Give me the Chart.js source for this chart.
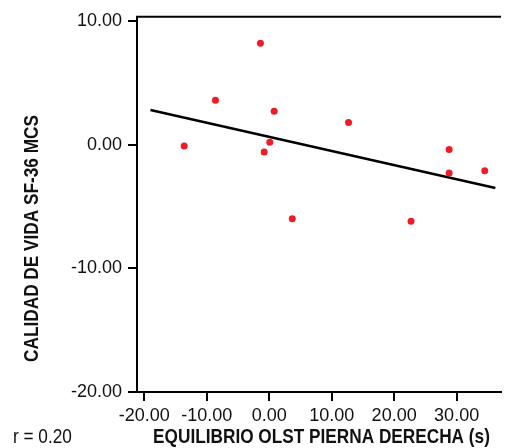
<!DOCTYPE html>
<html>
<head>
<meta charset="utf-8">
<script src="https://cdn.jsdelivr.net/npm/chart.js@4/dist/chart.umd.min.js"></script>
<style>
    html, body { margin: 0; padding: 0; background: #fff; }
</style>
</head>
<body>
<canvas id="chartCanvas" width="505" height="448"></canvas>
<script>
// Values
const equilibrio = [-1.4, -8.6, 0.8, 12.7, -13.6, 0.1, -0.8, 28.8, 28.8, 34.5, 3.7, 22.7];
const calidad    = [8.2, 3.6, 2.7, 1.8, -0.1, 0.2, -0.6, -0.4, -2.3, -2.1, -6.0, -6.2];

// Fitted line, as drawn in the reference
const fitX = [-19.0, 36.2];
const fitY = [2.8, -3.5];

const xTicks = [-20, -10, 0, 10, 20, 30];
const yTicks = [-20, -10, 0, 10];

const xTitle = 'EQUILIBRIO OLST PIERNA DERECHA (s)';
const yTitle = 'CALIDAD DE VIDA SF-36 MCS';
const rLabel = 'r = 0.20';

// Check whether a narrow font is installed
function hasFont(name) {
    const c = document.createElement('canvas').getContext('2d');
    const s = 'EQUILIBRIO 10.00';
    c.font = '40px monospace';
    const a = c.measureText(s).width;
    c.font = `40px "${name}", monospace`;
    const b = c.measureText(s).width;
    return a !== b;
}

const narrow = hasFont('Liberation Sans Narrow');
const family = narrow ? '"Liberation Sans Narrow", "Liberation Sans", Arial, sans-serif' : '"Liberation Sans", Arial, sans-serif';
const tickSize = narrow ? 21 : 18;
const squeeze = narrow ? 1 : 0.82;
const textColor = '#111';

// Plugin for the top border, axis titles and r label
const extrasPlugin = {
    id: 'extras',
    afterDraw(chart) {
        const ctx = chart.ctx;
        const area = chart.chartArea;
        ctx.save();
        ctx.strokeStyle = '#000';
        ctx.lineWidth = 2;
        ctx.beginPath();
        ctx.moveTo(area.left - 1, area.top);
        ctx.lineTo(area.right, area.top);
        ctx.stroke();

        ctx.fillStyle = textColor;
        ctx.textBaseline = 'middle';
        ctx.textAlign = 'center';

        // x title
        ctx.save();
        ctx.translate(321.5, 437);
        ctx.scale(squeeze, 1);
        ctx.font = `bold 21px ${family}`;
        ctx.fillText(xTitle, 0, 0);
        ctx.restore();

        // y title
        ctx.save();
        ctx.translate(32, 238.5);
        ctx.rotate(-Math.PI / 2);
        ctx.scale(squeeze, 1);
        ctx.font = `bold 21px ${family}`;
        ctx.fillText(yTitle, 0, 0);
        ctx.restore();

        // r label
        ctx.save();
        ctx.translate(13, 437);
        ctx.scale(squeeze, 1);
        ctx.textAlign = 'left';
        ctx.font = `21px ${family}`;
        ctx.fillText(rLabel, 0, 0);
        ctx.restore();

        ctx.restore();
    }
};

function buildChart() {
    try {
        const ctx = document.getElementById('chartCanvas').getContext('2d');

        const points = equilibrio.map((v, i) => ({ x: v, y: calidad[i] }));
        const fitLine = fitX.map((v, i) => ({ x: v, y: fitY[i] }));

        const axisCommon = {
            type: 'linear',
            border: { display: true, color: '#000', width: 2 },
            grid: { drawOnChartArea: false, drawTicks: true, tickLength: 9, color: '#000', lineWidth: 2 },
            ticks: {
                color: textColor,
                font: { family: family, size: tickSize },
                callback: (v) => Number(v).toFixed(2)
            }
        };

        new Chart(ctx, {
            type: 'scatter',
            data: {
                datasets: [
                    {
                        label: 'MCS',
                        data: points,
                        backgroundColor: '#ee1c24',
                        borderWidth: 0,
                        pointRadius: 3.5
                    },
                    {
                        type: 'line',
                        label: 'Ajuste',
                        data: fitLine,
                        borderColor: '#000',
                        borderWidth: 2.5,
                        pointRadius: 0,
                        fill: false
                    }
                ]
            },
            options: {
                responsive: false,
                animation: false,
                layout: { padding: { top: 14, right: 0, left: 0, bottom: 0 } },
                plugins: { legend: { display: false }, tooltip: { enabled: false } },
                scales: {
                    x: {
                        ...axisCommon,
                        position: 'bottom',
                        min: -21.15,
                        max: 37.1,
                        ticks: { ...axisCommon.ticks, padding: 4, maxRotation: 0 },
                        afterBuildTicks: (scale) => { scale.ticks = xTicks.map(v => ({ value: v })); },
                        afterFit: (scale) => { scale.height = 56; }
                    },
                    y: {
                        ...axisCommon,
                        position: 'left',
                        min: -20,
                        max: 10.34,
                        ticks: { ...axisCommon.ticks, padding: 6 },
                        afterBuildTicks: (scale) => { scale.ticks = yTicks.map(v => ({ value: v })); },
                        afterFit: (scale) => { scale.width = 137; }
                    }
                }
            },
            plugins: [extrasPlugin]
        });
    } catch (e) {
        console.error(e);
    }
}

buildChart();
</script>
</body>
</html>
